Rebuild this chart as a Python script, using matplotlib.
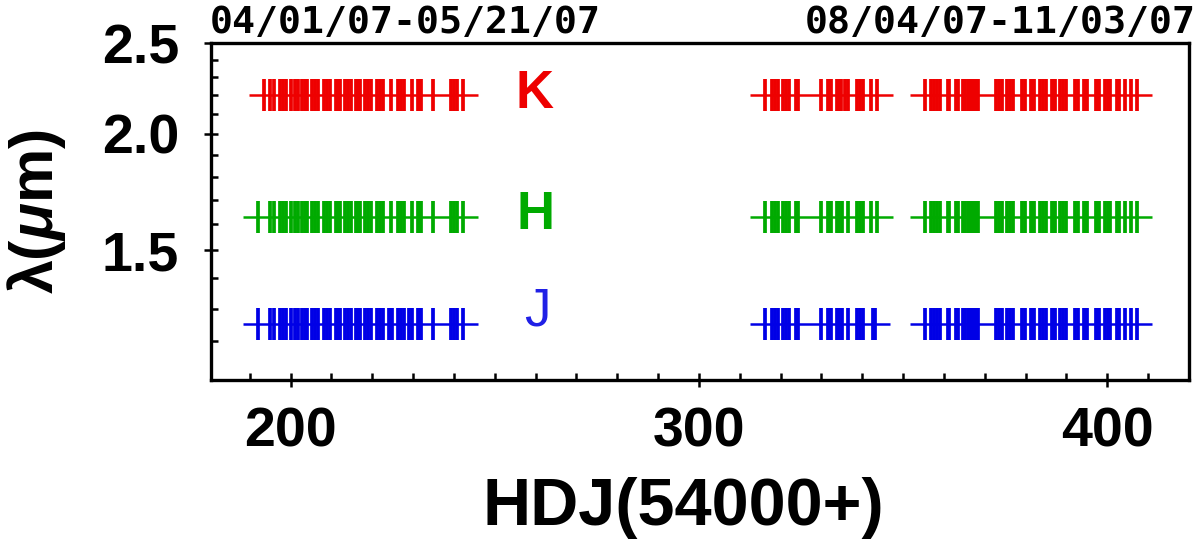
import numpy as np
import matplotlib
matplotlib.use('Agg')
import matplotlib.pyplot as plt
from matplotlib.ticker import FixedLocator, FixedFormatter, MultipleLocator

plt.rcParams['font.family'] = ['Liberation Sans', 'DejaVu Sans']
plt.rcParams['mathtext.fontset'] = 'custom'
plt.rcParams['mathtext.it'] = 'Liberation Sans:bold:italic'
plt.rcParams['mathtext.rm'] = 'Liberation Sans:bold'

common_dates = [195.06, 196.04, 197.34, 198.1, 198.89, 200.21, 201.0, 201.75,
                202.90, 203.45, 204.03, 205.18, 205.9, 206.65, 208.12, 208.95,
                209.76, 211.06, 211.5, 211.97, 213.27, 213.95, 214.67, 215.96,
                216.4, 216.87, 218.17, 218.95, 219.71, 221.04, 221.8, 222.58,
                226.18, 226.95, 227.73, 231.08, 231.45, 231.82, 234.75, 239.17,
                239.9, 240.64, 242.10,
                316.27, 317.90, 318.6, 319.30, 320.52, 321.26, 322.0, 323.78,
                324.20, 329.82, 331.55, 332.0, 332.43, 338.65, 339.42, 340.20,
                355.31, 356.86, 357.6, 358.35, 359.07, 361.03, 361.27, 362.84,
                363.31, 364.7, 365.25, 365.8, 366.35, 366.9, 367.4, 367.95,
                368.45, 372.79, 373.5, 374.19, 375.49, 376.2, 376.88, 379.16,
                379.82, 381.37, 381.75, 382.10, 383.57, 384.27, 384.97, 386.44,
                386.8, 387.17, 388.47, 389.17, 389.87, 392.15, 392.81, 394.21,
                394.6, 395.02, 397.22, 397.6, 398.03, 399.50, 400.1, 400.65,
                402.44, 402.86, 404.36, 405.78, 407.25]
k_extra = [193.51, 224.55, 229.70, 333.75, 334.25, 334.73, 335.79, 336.45, 342.07, 343.71]
h_extra = [192.11, 224.55, 229.70, 333.75, 334.35, 334.97, 336.43, 342.07, 343.71]
j_extra = [192.11, 224.05, 224.45, 224.86, 229.05, 229.61, 333.75, 334.35, 334.97,
           336.43, 342.5, 343.05]

bands = ['K', 'H', 'J']
wavelengths = [2.20, 1.63, 1.25]
band_colors = ['#ee0000', '#00aa00', '#0000e6']

date_lists = {'K': common_dates + k_extra,
              'H': common_dates + h_extra,
              'J': common_dates + j_extra}

season_labels = ['04/01/07-05/21/07', '08/04/07-11/03/07']


def segments(d, gap=8.0, pad=3.7):
    d = np.sort(np.asarray(d))
    cut = np.where(np.diff(d) > gap)[0]
    starts = np.r_[d[0], d[cut + 1]]
    ends = np.r_[d[cut], d[-1]]
    return starts - pad, ends + pad


fig = plt.figure(figsize=(12, 5.44), dpi=100)
ax = fig.add_axes([0.17583, 0.30147, 0.815, 0.61893])

for b, lam, c in zip(bands, wavelengths, band_colors):
    d = date_lists[b]
    s, e = segments(d)
    ax.hlines([lam] * len(s), s, e, color=c, lw=1.8, zorder=3)
    ax.plot(d, [lam] * len(d), ls='none', marker='|', ms=22.5, mew=2.7,
            color=c, zorder=2)

ax.set_yscale('log')
ax.set_xlim(180.5, 420)
ax.set_ylim(1.09, 2.5)

ax.yaxis.set_major_locator(FixedLocator([1.5, 2.0, 2.5]))
ax.yaxis.set_major_formatter(FixedFormatter(['1.5', '2.0', '2.5']))
ax.yaxis.set_minor_locator(FixedLocator([1.2, 1.3, 1.4, 1.6, 1.7, 1.8, 1.9,
                                         2.1, 2.2, 2.3, 2.4]))
ax.yaxis.set_minor_formatter(FixedFormatter([]))
ax.xaxis.set_major_locator(FixedLocator([200, 300, 400]))
ax.xaxis.set_minor_locator(MultipleLocator(10))

ax.tick_params(which='major', direction='inout', length=10, width=1.8,
               labelsize=40, top=False, right=False)
ax.tick_params(which='minor', direction='in', length=4.8, width=1.8,
               top=False, right=False)
ax.tick_params(axis='y', which='major', pad=18)
ax.tick_params(axis='x', which='major', pad=14)
for lab in ax.get_xticklabels() + ax.get_yticklabels():
    lab.set_fontweight('bold')
for sp in ax.spines.values():
    sp.set_linewidth(2.4)

ax.text(259.7, 2.132, 'K', color='#ee0000', fontsize=38, fontweight='bold',
        ha='center', va='baseline')
ax.text(260.0, 1.583, 'H', color='#00aa00', fontsize=38, fontweight='bold',
        ha='center', va='baseline')
ax.text(260.4, 1.247, 'J', color='#2020e6', fontsize=38,
        ha='center', va='baseline')

fig.text(210 / 1200, 1 - 33 / 544, season_labels[0], family='DejaVu Sans Mono',
         fontweight='bold', fontsize=27.5, ha='left', va='baseline')
fig.text(1196 / 1200, 1 - 33 / 544, season_labels[1], family='DejaVu Sans Mono',
         fontweight='bold', fontsize=27.5, ha='right', va='baseline')

fig.text(683 / 1200, 1 - 525 / 544, 'HDJ(54000+)', fontsize=48,
         fontweight='bold', ha='center', va='baseline')
fig.text(36 / 1200, 1 - 212 / 544, r'λ($\mu$m)', fontsize=44, fontweight='bold',
         rotation=90, ha='center', va='center')

fig.savefig('out.png', dpi=100)
